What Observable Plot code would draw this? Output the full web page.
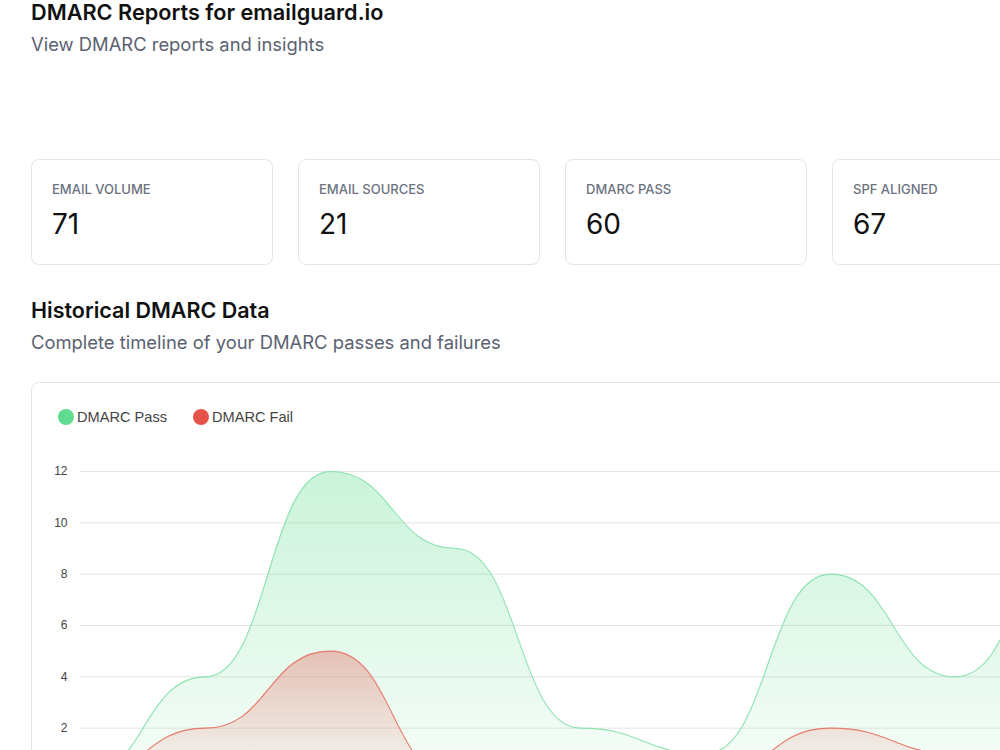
<!DOCTYPE html>
<html>
<head>
<meta charset="utf-8">
<script src="https://cdn.jsdelivr.net/npm/d3@7"></script>
<script src="https://cdn.jsdelivr.net/npm/@observablehq/plot@0.6"></script>
<style>
  html, body { margin: 0; padding: 0; background: #fff; overflow: hidden; width: 1000px; height: 750px; }
  body { position: relative; font-family: Inter, "Noto Sans", sans-serif; }
  .abs { position: absolute; white-space: nowrap; }
  .title { left: 31px; top: 0px; font-size: 21.7px; line-height: 24px; font-weight: 600; color: #111; }
  .subtitle { left: 31px; top: 33px; font-size: 18.4px; line-height: 22px; font-weight: 400; color: #5b6271; }
  .card { position: absolute; box-sizing: border-box; border: 1px solid #e3e5e9; border-radius: 8px; background: #fff; }
  .stat-label { position: absolute; left: 20px; top: 21px; font-size: 13px; line-height: 16px; font-weight: 500; color: #6b7280; letter-spacing: 0px; }
  .stat-value { position: absolute; left: 20px; top: 47px; font-size: 28px; line-height: 34px; font-weight: 400; color: #111; }
  .sec-title { left: 31px; top: 298px; font-size: 21.5px; line-height: 24px; font-weight: 600; color: #111; }
  .sec-sub { left: 31px; top: 331px; font-size: 18.4px; line-height: 22px; color: #5b6271; }
  .legend-dot { position: absolute; width: 16px; height: 16px; border-radius: 50%; }
  .legend-text { position: absolute; font-family: "Liberation Sans", Arial, sans-serif; font-size: 14.6px; line-height: 20px; color: #444; }
  #chart { position: absolute; left: 32px; top: 442px; width: 1210px; }
  #chart svg { max-width: none !important; }
</style>
</head>
<body>
<div class="abs title">DMARC Reports for emailguard.io</div>
<div class="abs subtitle">View DMARC reports and insights</div>
<div id="stats"></div>
<div class="abs sec-title">Historical DMARC Data</div>
<div class="abs sec-sub">Complete timeline of your DMARC passes and failures</div>
<div class="card" style="left:31px; top:382px; width:1230px; height:520px;"></div>
<div id="legend"></div>
<div id="chart"></div>
<script>
// ---- data ----
const statLabels = ["EMAIL VOLUME", "EMAIL SOURCES", "DMARC PASS", "SPF ALIGNED"];
const statValues = [71, 21, 60, 67];

const periods = ["P1", "P2", "P3", "P4", "P5", "P6", "P7", "P8", "P9", "P10"];
const passValues = [0, 4, 12, 9, 2, 1, 8, 4, 10, 10];
const failValues = [0, 2, 5, 0, 0, 0, 2, 1, 1, 0];
const gridTicks = [0, 2, 4, 6, 8, 10, 12];
const labelTicks = [2, 4, 6, 8, 10, 12];

const seriesNames = ["DMARC Pass", "DMARC Fail"];
const seriesColors = ["#5fdc8f", "#e5534b"];

// ---- stat cards ----
const statsEl = document.getElementById("stats");
statLabels.forEach((lab, i) => {
  const c = document.createElement("div");
  c.className = "card";
  c.style.left = (31 + i * 267) + "px";
  c.style.top = "159px";
  c.style.width = "242px";
  c.style.height = "106px";
  c.innerHTML = `<div class="stat-label">${lab}</div><div class="stat-value">${statValues[i]}</div>`;
  statsEl.appendChild(c);
});

// ---- legend ----
const legendEl = document.getElementById("legend");
const legendX = [58, 193];
seriesNames.forEach((name, i) => {
  const d = document.createElement("div");
  d.className = "legend-dot";
  d.style.left = legendX[i] + "px";
  d.style.top = "409px";
  d.style.background = seriesColors[i];
  legendEl.appendChild(d);
  const t = document.createElement("div");
  t.className = "legend-text";
  t.style.left = (legendX[i] + 19) + "px";
  t.style.top = "407px";
  t.textContent = name;
  legendEl.appendChild(t);
});

// ---- chart ----
const data = periods.map((p, i) => ({period: p, pass: passValues[i], fail: failValues[i]}));

const svg = Plot.plot({
  width: 1203,
  height: 377,
  marginLeft: 48,
  marginRight: 30,
  marginTop: 29,
  marginBottom: 40,
  style: {fontFamily: "'Liberation Sans', Arial, sans-serif", background: "transparent", overflow: "visible", maxWidth: "none"},
  x: {type: "point", domain: periods, padding: 0, axis: null},
  y: {domain: [0, 12], axis: null},
  marks: [
    Plot.gridY(gridTicks, {stroke: "#e4e4e4", strokeOpacity: 1, strokeWidth: 1}),
    Plot.axisY(labelTicks, {tickSize: 0, tickPadding: 13, fontSize: 12, fill: "#444", label: null}),
    Plot.areaY(data, {x: "period", y: "pass", curve: "bump-x", fill: "url(#gradPass)"}),
    Plot.lineY(data, {x: "period", y: "pass", curve: "bump-x", stroke: "#8ee3b0", strokeWidth: 1.1}),
    Plot.areaY(data, {x: "period", y: "fail", curve: "bump-x", fill: "url(#gradFail)"}),
    Plot.lineY(data, {x: "period", y: "fail", curve: "bump-x", stroke: "#e77b6d", strokeWidth: 1.1})
  ]
});
svg.style.maxWidth = "none";

const defs = d3.select(svg).insert("defs", ":first-child");
function grad(id, color, o1, o2) {
  const g = defs.append("linearGradient").attr("id", id)
    .attr("x1", 0).attr("y1", 0).attr("x2", 0).attr("y2", 1);
  g.append("stop").attr("offset", "0%").attr("stop-color", color).attr("stop-opacity", o1);
  g.append("stop").attr("offset", "100%").attr("stop-color", color).attr("stop-opacity", o2);
}
grad("gradPass", seriesColors[0], 0.33, 0.05);
grad("gradFail", seriesColors[1], 0.34, 0.03);

document.getElementById("chart").appendChild(svg);
</script>
</body>
</html>
